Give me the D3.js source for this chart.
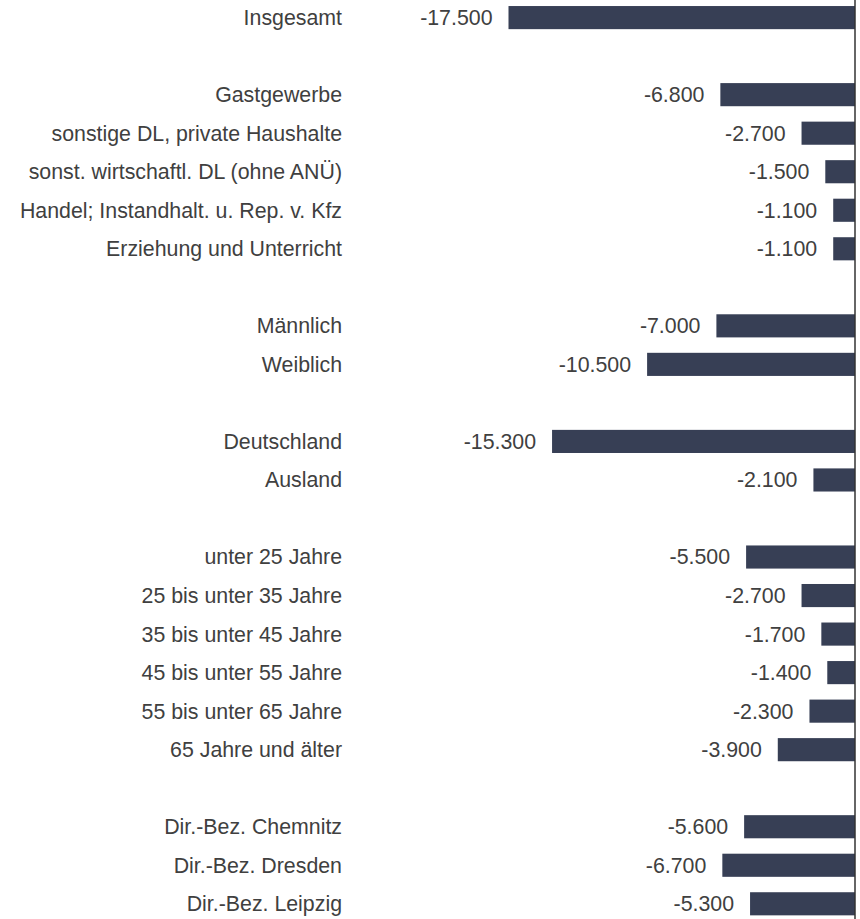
<!DOCTYPE html>
<html lang="de">
<head>
	<meta charset="UTF-8">
	<title>Veränderung Arbeitslose</title>
	<script src="https://d3js.org/d3.v7.min.js"></script>
	<style>
		body { margin: 0; background: #fff; }
		text { font-family: "Liberation Sans", Arial, sans-serif; font-size: 21.33px; fill: #404040; }
	</style>
</head>
<body>
<script>
	// ----data----
	var categories = [
		'Insgesamt', '_gap1',
		'Gastgewerbe', 'sonstige DL, private Haushalte', 'sonst. wirtschaftl. DL (ohne ANÜ)',
		'Handel; Instandhalt. u. Rep. v. Kfz', 'Erziehung und Unterricht', '_gap2',
		'Männlich', 'Weiblich', '_gap3',
		'Deutschland', 'Ausland', '_gap4',
		'unter 25 Jahre', '25 bis unter 35 Jahre', '35 bis unter 45 Jahre',
		'45 bis unter 55 Jahre', '55 bis unter 65 Jahre', '65 Jahre und älter', '_gap5',
		'Dir.-Bez. Chemnitz', 'Dir.-Bez. Dresden', 'Dir.-Bez. Leipzig'
	];
	var values = [
		-17500, null,
		-6800, -2700, -1500, -1100, -1100, null,
		-7000, -10500, null,
		-15300, -2100, null,
		-5500, -2700, -1700, -1400, -2300, -3900, null,
		-5600, -6700, -5300
	];

	var width = 860, height = 919;
	var data = categories.map(function (c, i) { return {cat: c, val: values[i]}; });

	var svg = d3.select('body').append('svg')
		.attr('width', width)
		.attr('height', height);

	var x = d3.scaleLinear()
		.domain([-17500, 0])
		.range([508.5, 855]);

	var step = 38.53;
	var y = d3.scaleBand()
		.domain(categories)
		.range([17.6 - 0.7 * step, 17.6 - 0.7 * step + 24.4 * step])
		.padding(0.4);

	var rows = data.filter(function (d) { return d.val !== null; });

	// ----bars----
	svg.selectAll('rect.bar')
		.data(rows)
		.enter().append('rect')
		.attr('class', 'bar')
		.attr('x', function (d) { return x(d.val); })
		.attr('y', function (d) { return y(d.cat); })
		.attr('width', function (d) { return x(0) - x(d.val); })
		.attr('height', y.bandwidth())
		.attr('fill', '#373f55');

	// ----category labels----
	svg.selectAll('text.cat')
		.data(rows)
		.enter().append('text')
		.attr('class', 'cat')
		.attr('x', 342)
		.attr('y', function (d) { return y(d.cat) + y.bandwidth() / 2; })
		.attr('dy', '0.35em')
		.attr('text-anchor', 'end')
		.text(function (d) { return d.cat; });

	// ----value labels----
	var fmt = function (v) { return '-' + d3.format(',.0f')(-v).replace(/,/g, '.'); };
	svg.selectAll('text.val')
		.data(rows)
		.enter().append('text')
		.attr('class', 'val')
		.attr('x', function (d) { return x(d.val) - 16; })
		.attr('y', function (d) { return y(d.cat) + y.bandwidth() / 2; })
		.attr('dy', '0.35em')
		.attr('text-anchor', 'end')
		.text(function (d) { return fmt(d.val); });

	// ----zero line----
	svg.append('line')
		.attr('x1', x(0)).attr('x2', x(0))
		.attr('y1', 0).attr('y2', height)
		.attr('stroke', '#333')
		.attr('stroke-width', 1.5);
</script>
</body>
</html>
